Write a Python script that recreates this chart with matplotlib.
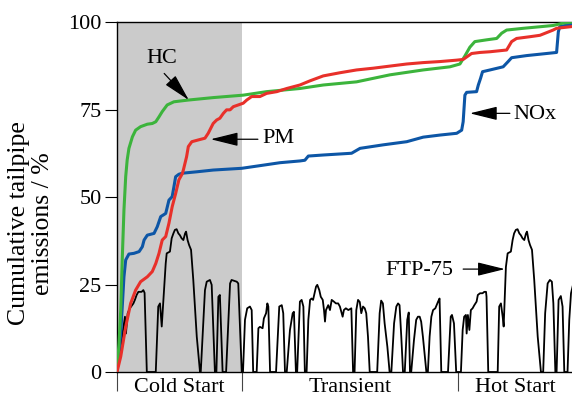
import matplotlib
matplotlib.use("Agg")
import matplotlib.pyplot as plt
from matplotlib.transforms import blended_transform_factory

plt.rcParams['font.family'] = ['Liberation Serif', 'DejaVu Serif']

# ---------------- data (time in s, values in %) ----------------
phase_names = ["Cold Start", "Transient", "Hot Start"]
phase_edges = [0, 505, 1372, 1831]

hc_t = [0, 8, 15, 21, 28, 35, 41, 48, 62, 75, 95, 122, 142, 156, 169, 182, 202, 229, 263,
        287, 387, 508, 602, 736, 830, 964, 1098, 1232, 1340, 1380, 1400, 1420, 1440, 1487,
        1528, 1548, 1568, 1635, 1755, 1796, 1831]
hc_v = [0, 8.2, 17.7, 32, 46.3, 55.8, 60.6, 63.9, 67.2, 69.1, 70.1, 70.8, 71, 71.5, 72.9,
        74.4, 76.3, 77.2, 77.5, 77.7, 78.4, 79.1, 80.1, 81, 82, 82.9, 84.9, 86.3, 87.2, 88,
        90.3, 92.8, 94.4, 94.9, 95.3, 96.8, 97.7, 98.2, 99, 99.7, 100]

pm_t = [0, 15, 35, 55, 75, 95, 122, 142, 156, 169, 182, 196, 209, 222, 236, 249, 263, 267,
        280, 287, 301, 327, 354, 367, 387, 401, 414, 428, 441, 455, 468, 488, 508, 522, 542,
        575, 602, 643, 683, 736, 777, 830, 897, 964, 1031, 1098, 1166, 1232, 1300, 1367,
        1393, 1427, 1461, 1501, 1568, 1588, 1608, 1662, 1702, 1755, 1769, 1831]
pm_v = [0, 4.4, 12.9, 19.6, 23.4, 25.8, 27.2, 28.7, 31, 33.9, 37.7, 38.7, 42.5, 47.2, 51,
        54.9, 56.7, 57.7, 61.5, 64.4, 65.8, 66.3, 66.8, 68.2, 71, 72, 72.5, 73.9, 74.9, 74.9,
        75.8, 76.3, 76.8, 77.7, 78.7, 78.7, 79.6, 80.1, 81, 82, 83.2, 84.6, 85.5, 86.3, 86.8,
        87.4, 88, 88.4, 88.7, 89.1, 89.3, 91, 91.3, 91.5, 92, 94.4, 95.3, 95.8, 96.2, 97.7,
        98.2, 98.7]

nox_t = [0, 15, 28, 35, 48, 68, 89, 102, 109, 122, 149, 162, 176, 196, 209, 222, 229, 236,
         249, 263, 321, 387, 502, 589, 656, 736, 756, 770, 830, 944, 978, 1071, 1166, 1232,
         1300, 1367, 1387, 1393, 1400, 1407, 1447, 1454, 1463, 1471, 1501, 1554, 1574, 1588,
         1648, 1702, 1769, 1776, 1782, 1831]
nox_v = [0, 11, 27.2, 32, 33.7, 33.9, 34.4, 35.8, 37.7, 39.1, 39.6, 41.5, 44.4, 45.3, 49.1,
         50.1, 52.9, 55.8, 56.5, 56.8, 57.2, 57.7, 58.2, 59.1, 59.8, 60.3, 60.5, 61.7, 62,
         62.5, 63.9, 64.9, 65.8, 67.1, 67.7, 68.2, 69.1, 71.5, 79.1, 79.9, 80.1, 82, 83.9,
         85.8, 86.3, 87.2, 88.7, 89.8, 90.4, 90.8, 91.3, 97.2, 98.7, 99.4]

ftp_t = [0, 32, 36, 43, 52, 66, 72, 79, 86, 99, 106, 111, 120, 156, 166, 173, 180, 190, 196,
         200, 213, 220, 227, 233, 240, 247, 253, 260, 267, 274, 278, 284, 290, 298, 307, 321,
         334, 337, 354, 361, 374, 381, 394, 400, 408, 414, 425, 439, 455, 461, 482, 488, 502,
         507, 515, 524, 535, 542, 548, 562, 569, 575, 586, 591, 600, 605, 609, 616, 640, 653,
         663, 669, 676, 683, 696, 707, 712, 720, 725, 736, 743, 750, 756, 763, 770, 777, 783,
         789, 801, 806, 814, 820, 828, 833, 837, 841, 850, 857, 864, 873, 881, 890, 897, 908,
         913, 921, 931, 943, 950, 956, 963, 970, 977, 983, 990, 997, 1003, 1010, 1017, 1047,
         1057, 1063, 1070, 1077, 1088, 1097, 1104, 1115, 1124, 1131, 1137, 1144, 1151, 1158,
         1168, 1174, 1179, 1184, 1195, 1204, 1211, 1218, 1224, 1231, 1245, 1251, 1258, 1265,
         1272, 1281, 1292, 1298, 1305, 1332, 1343, 1348, 1356, 1365, 1384, 1391, 1397, 1404,
         1407, 1412, 1418, 1424, 1431, 1438, 1447, 1452, 1461, 1471, 1478, 1485, 1487, 1494,
         1532, 1538, 1545, 1552, 1556, 1562, 1565, 1572, 1585, 1592, 1598, 1605, 1612, 1619,
         1625, 1632, 1639, 1646, 1650, 1656, 1662, 1670, 1679, 1693, 1706, 1715, 1723, 1733,
         1742, 1750, 1756, 1764, 1769, 1777, 1786, 1793, 1800, 1813, 1820, 1827, 1835]
ftp_v = [0, 15.8, 11, 16.8, 18.2, 19.6, 20.6, 22, 22.9, 22.9, 23.4, 22.6, 0, 0, 18.7, 19.6,
         13, 24.4, 31, 33.9, 34.4, 38.2, 39.6, 40.6, 40.8, 39.6, 39.1, 38.2, 37.7, 39.6, 40.1,
         37.7, 36.3, 34.9, 26.3, 10.1, 0, 0, 23.4, 25.8, 26.3, 24.9, 0, 0, 21.5, 22, 0, 0,
         25.3, 26.3, 25.8, 25.3, 0,
         0, 14.9, 18.2, 18.7, 17.7, 0, 0, 12.5, 12.9, 12.5, 15.3, 16.8, 19.6, 18.7, 0, 0, 18.7,
         19.1, 16.8, 0, 0, 12, 16.8, 17.2, 0, 0, 20.1, 20.6, 18.7, 0, 0, 14.9, 20.6, 21, 20.6,
         24.4, 24.9, 23.4, 21.5, 20.6, 17.7, 14.4, 17.7, 19.1, 17.7, 20.6, 20.1, 19.6, 19.6,
         18.7, 15.8, 17.7, 18.2, 17.7, 18.2, 0, 0, 17.7, 20.6, 20, 16.8, 18.7, 18.2, 16.8,
         10.1, 0, 0, 16.8, 20.4, 19.6, 13.9, 7.2, 0, 0, 13.9, 18.7, 19.6, 19.1, 10.1, 0, 0,
         14.9, 17, 0, 0, 9.1, 14.9, 15.8, 15.8, 14.4, 10.1, 0, 0, 10.1, 15.8, 17.7, 18.2,
         20.1, 21, 0, 0, 15.8, 16.3, 13.9, 0,
         0, 12, 15.8, 16.3, 11, 16.3, 12, 17.7, 18.2, 19.1, 20.1, 22, 22.5, 22.5, 22.9, 22.9,
         21.5, 0, 0, 18.7, 19.6, 15.8, 13, 24.4, 30, 33.9, 34.4, 37.7, 39.6, 40.6, 40.8, 39.6,
         39.1, 38.2, 37.7, 39.6, 40.1, 37.7, 36.3, 34.9, 26.3, 10.1, 0, 0, 16.8, 25.3, 26.3,
         25.8, 19.6, 0, 0, 20.6, 21.7, 18.7, 0, 0, 14.9, 22.5, 24.9]

yticks = [0, 25, 50, 75, 100]

# ---------------- figure ----------------
fig = plt.figure(figsize=(5.72, 3.99), dpi=100)
ax = fig.add_axes([117 / 572, 27 / 399, 1 - 117 / 572, 350 / 399])

FS = 16
ax.axvspan(phase_edges[0], phase_edges[1], color="#cbcbcb", lw=0, zorder=0)

ax.plot(ftp_t, ftp_v, color="black", lw=1.3, zorder=2)
ax.plot(nox_t, nox_v, color="#0d56a6", lw=2.2, zorder=3)
ax.plot(hc_t, hc_v, color="#3cb43c", lw=2.2, zorder=4)
ax.plot(pm_t, pm_v, color="#e8302a", lw=2.2, zorder=5)

ax.set_xlim(phase_edges[0], phase_edges[-1])
ax.set_ylim(0, 100)
ax.set_yticks(yticks)
ax.set_yticklabels([str(v) for v in yticks], fontsize=FS)
ax.tick_params(axis="y", direction="out", length=9, width=0.8, pad=2)

ax.set_xticks(phase_edges[:-1])
ax.set_xticklabels([])
ax.tick_params(axis="x", direction="out", length=14, width=0.8, color="#444444")

for s in ["left", "top", "bottom"]:
    ax.spines[s].set_linewidth(1.0)
ax.spines["right"].set_visible(False)

trans = blended_transform_factory(ax.transData, ax.transAxes)
for name, a, b in zip(phase_names, phase_edges[:-1], phase_edges[1:]):
    ax.text((a + b) / 2, -0.045, name, transform=trans, ha="center", va="center",
            fontsize=FS)

fig.text(0.054, 0.44, "Cumulative tailpipe\nemissions / %", rotation=90,
         ha="center", va="center", fontsize=18.5, linespacing=1.12)

arrow_kw = dict(arrowstyle="-|>,head_length=17,head_width=4.2", mutation_scale=1,
                color="black", lw=0.9, shrinkA=0, shrinkB=0)

# HC
ax.text(181, 89.7, "HC", ha="center", va="center", fontsize=FS)
ax.annotate("", xy=(289, 77.7), xytext=(190, 85.3), arrowprops=arrow_kw, zorder=6)
# PM
ax.text(650, 66.6, "PM", ha="center", va="center", fontsize=FS)
ax.annotate("", xy=(377, 66.5), xytext=(567, 66.5), arrowprops=arrow_kw, zorder=6)
# NOx
ax.text(1682, 73.7, "NOx", ha="center", va="center", fontsize=FS)
ax.annotate("", xy=(1420, 73.9), xytext=(1581, 73.9), arrowprops=arrow_kw, zorder=6)
# FTP-75
ax.text(1215, 29.1, "FTP-75", ha="center", va="center", fontsize=FS)
ax.annotate("", xy=(1561, 29.4), xytext=(1393, 29.4), arrowprops=arrow_kw, zorder=6)

fig.savefig("out.png", dpi=100)
